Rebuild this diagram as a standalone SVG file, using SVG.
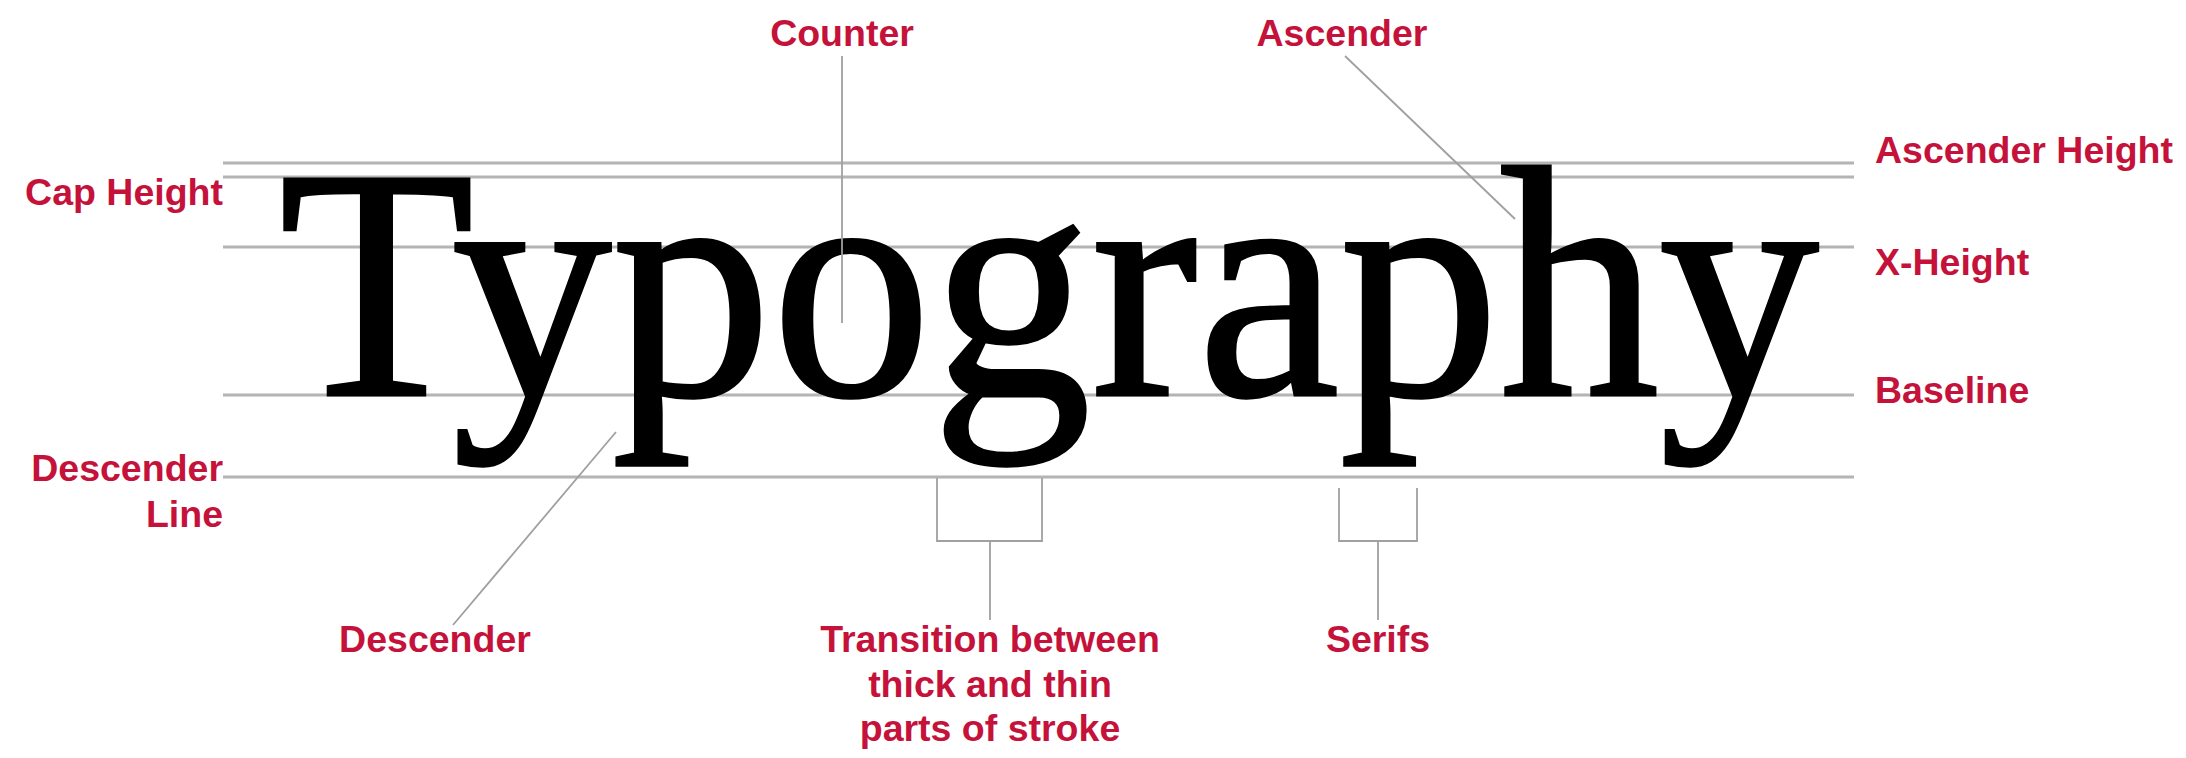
<svg xmlns="http://www.w3.org/2000/svg" width="2186" height="758" viewBox="0 0 2186 758">
<style>
.lbl{font-family:"Liberation Sans",Arial,sans-serif;font-weight:bold;font-size:37.5px;fill:#c5123a}
.guide{stroke:#b4b4b4;stroke-width:3;fill:none}
.con{stroke:#a0a0a0;stroke-width:1.8;fill:none}
.word{font-family:"Liberation Serif","Times New Roman",serif;font-size:330px;fill:#000;stroke:#000;stroke-width:3}
</style>
<rect width="2186" height="758" fill="#fff"/>
<g id="guides">
<line class="guide" x1="223" y1="163" x2="1854" y2="163"/>
<line class="guide" x1="223" y1="177" x2="1854" y2="177"/>
<line class="guide" x1="223" y1="247" x2="1854" y2="247"/>
<line class="guide" x1="223" y1="395" x2="1854" y2="395"/>
<line class="guide" x1="223" y1="477" x2="1854" y2="477"/>
</g>
<g id="word"><text class="word" x="279" y="395" textLength="1540" lengthAdjust="spacingAndGlyphs">Typography</text></g>
<g id="connectors">
<line class="con" x1="842" y1="56" x2="842" y2="323"/>
<line class="con" x1="1345" y1="56" x2="1515" y2="219"/>
<line class="con" x1="453" y1="625" x2="616" y2="432"/>
<polyline class="con" points="937,478 937,541 1042,541 1042,478"/>
<line class="con" x1="990" y1="541" x2="990" y2="620"/>
<polyline class="con" points="1339,488 1339,541 1417,541 1417,488"/>
<line class="con" x1="1378" y1="541" x2="1378" y2="620"/>
</g>
<g id="counter"><text class="lbl" x="842" y="46" text-anchor="middle">Counter</text></g>
<g id="ascender"><text class="lbl" x="1342" y="46" text-anchor="middle">Ascender</text></g>
<g id="cap-height"><text class="lbl" x="223" y="205" text-anchor="end">Cap Height</text></g>
<g id="ascender-height"><text class="lbl" x="1875" y="163">Ascender Height</text></g>
<g id="x-height"><text class="lbl" x="1875" y="275">X-Height</text></g>
<g id="baseline"><text class="lbl" x="1875" y="403">Baseline</text></g>
<g id="descender-line"><text class="lbl" x="223" y="481" text-anchor="end">Descender</text><text class="lbl" x="223" y="527" text-anchor="end">Line</text></g>
<g id="descender"><text class="lbl" x="435" y="652" text-anchor="middle">Descender</text></g>
<g id="transition"><text class="lbl" x="990" y="652" text-anchor="middle">Transition between</text><text class="lbl" x="990" y="697" text-anchor="middle">thick and thin</text><text class="lbl" x="990" y="741" text-anchor="middle">parts of stroke</text></g>
<g id="serifs"><text class="lbl" x="1378" y="652" text-anchor="middle">Serifs</text></g>
</svg>
